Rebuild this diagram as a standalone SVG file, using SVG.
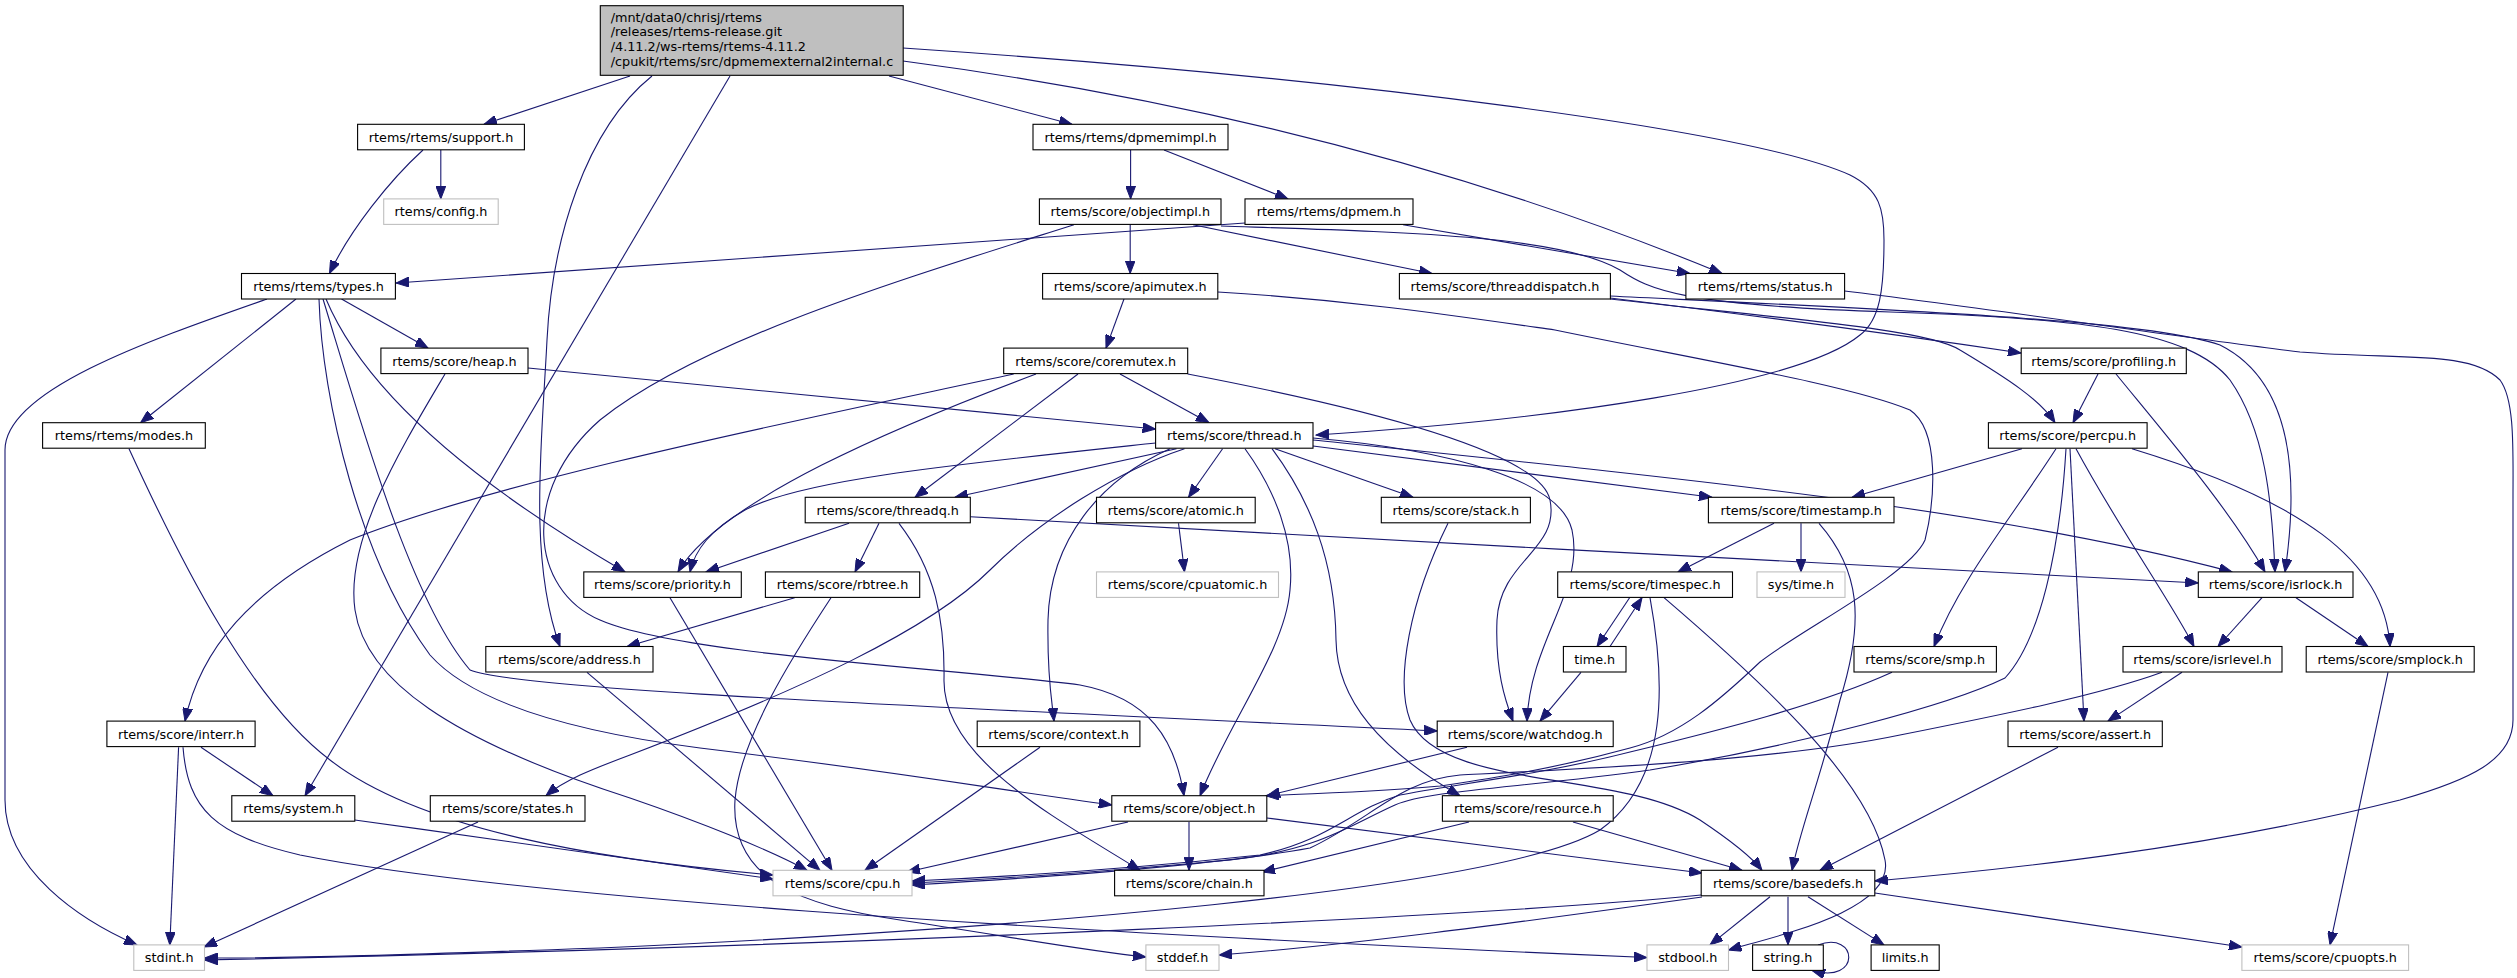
<svg xmlns="http://www.w3.org/2000/svg" width="2517" height="978" viewBox="0 0 2517 978">
<defs>
<style>
.node rect{fill:#fff;stroke:#000;stroke-width:1.1}
.ext rect{fill:#fff;stroke:#bfbfbf;stroke-width:1.1}
.root rect{fill:#bfbfbf;stroke:#000;stroke-width:1.1}
text{font-family:"DejaVu Sans","Liberation Sans",sans-serif;font-size:12.8px;fill:#000}
.node text,.ext text{text-anchor:middle}
#edges path{fill:none;stroke:#191970;stroke-width:1.1;marker-end:url(#arr)}
</style>
<marker id="arr" markerWidth="14" markerHeight="10" refX="13" refY="5" orient="auto" markerUnits="userSpaceOnUse">
<path d="M0,0 L13,5 L0,10 z" fill="#191970" stroke="#191970" stroke-width="1"/>
</marker>
</defs>
<rect width="2517" height="978" fill="#fff"/>
<g id="edges">
<path d="M630,76 L484,124.3"/>
<path d="M652,76 C585,130 552,240 547,340 C542,440 528,560 560,646.5"/>
<path d="M730,76 L305,795.7"/>
<path d="M889,76 L1072,124.3"/>
<path d="M903,61 Q1350,120 1722,273.5"/>
<path d="M903,48 C1350,78 1750,130 1850,175 C1880,190 1884,210 1884,240 C1884,290 1880,320 1860,335 C1800,385 1550,420 1316,435"/>
<path d="M440.8,150 L440.8,198.9"/>
<path d="M423,150 C390,180 350,230 329.5,273.5"/>
<path d="M1130.6,150 L1130.6,198.9"/>
<path d="M1164,150 L1288,198.9"/>
<path d="M1245,223 L396,283"/>
<path d="M1403,224.7 L1690,273.5"/>
<path d="M1130.2,224.7 L1130.2,273.5"/>
<path d="M1193,224.7 L1432,273.5"/>
<path d="M1074,224.7 C900,280 700,340 600,420 C520,490 530,590 600,620 C680,655 950,668 1080,685 C1150,698 1175,740 1184,795.7"/>
<path d="M1221,226 C1400,232 1560,235 1620,270 C1650,290 1680,305 1890,312 C2080,318 2190,330 2230,380 C2265,430 2272,500 2275,571.9"/>
<path d="M1124,299 L1106,348.1"/>
<path d="M1217.8,292 C1350,300 1450,315 1555,330 C1700,360 1850,385 1910,410 C1940,430 1935,500 1925,540 C1910,575 1800,630 1760,662 C1720,700 1680,735 1630,748 C1550,770 1480,780 1440,786 C1380,792 1320,793 1266,795.7"/>
<path d="M1013.7,374 C800,420 500,480 350,540 C250,590 200,650 185,721.1"/>
<path d="M1036,374 C900,425 720,500 678,571.9"/>
<path d="M1078,374 L915,497.3"/>
<path d="M1120,374 L1209,422.7"/>
<path d="M1187.7,374 C1350,405 1540,450 1550,500 C1560,550 1500,560 1497,620 C1495,670 1505,700 1513,721.1"/>
<path d="M528,368 L1155.6,429"/>
<path d="M445,374 C400,450 345,540 355,610 C365,680 450,740 630,798 C700,822 770,850 807,870.3"/>
<path d="M267,299 C150,340 5,390 5,450 L5,800 C5,870 80,920 137,944.9"/>
<path d="M296,299 L140.6,422.7"/>
<path d="M319,299 C322,400 360,560 430,655 C470,700 560,730 700,748 C900,772 1000,790 1111.8,805"/>
<path d="M323,299 C360,420 410,600 470,670 C520,690 900,705 1437.2,731"/>
<path d="M326,299 C360,380 450,470 625,571.9"/>
<path d="M341.5,299 L428,348.1"/>
<path d="M129,448.7 C180,560 250,700 330,760 C420,830 600,860 773,875"/>
<path d="M354.8,820 C500,840 650,862 773,879"/>
<path d="M201,747.3 L273,795.7"/>
<path d="M178.6,747.3 L169.8,944.9"/>
<path d="M183,747.3 C188,810 215,835 300,855 C500,895 1000,930 1647,957.5"/>
<path d="M478,822 L204,947"/>
<path d="M587,672.3 L820,870.3"/>
<path d="M670,597.7 L832,870.3"/>
<path d="M849,523.3 L706,571.9"/>
<path d="M879,523.3 L855,571.9"/>
<path d="M899,523.3 C935,570 945,620 944,680 C943,760 1060,820 1140,870.3"/>
<path d="M970.3,516.7 C1300,537 1900,566 2198.3,583"/>
<path d="M794.7,597.7 L627,646.5"/>
<path d="M831,597.7 C790,660 740,740 735,800 C730,880 800,905 900,920 C1000,935 1080,950 1145.9,957"/>
<path d="M1155.6,443 C950,465 800,480 745,510 C710,530 695,550 690,571.9"/>
<path d="M1176.5,448.7 L955,497.3"/>
<path d="M1184.5,448.7 C1120,470 1040,520 990,570 C930,630 800,690 630,755 C590,770 565,780 546,795.7"/>
<path d="M1170,448.7 C1100,480 1050,540 1048,620 C1047,680 1052,700 1054,721.1"/>
<path d="M1222.6,448.7 L1188.5,497.3"/>
<path d="M1245,448.7 C1275,490 1295,540 1290,590 C1285,650 1230,720 1200,795.7"/>
<path d="M1272,448.7 C1310,500 1335,560 1336,640 C1337,700 1380,750 1460,795.7"/>
<path d="M1275,448.7 L1413,497.3"/>
<path d="M1313,446 L1712,497.3"/>
<path d="M1313,440 C1700,480 2000,510 2232,571.9"/>
<path d="M1313,438 C1450,450 1560,480 1572,530 C1585,590 1530,640 1527,721.1"/>
<path d="M1178.5,523.3 L1184.5,571.9"/>
<path d="M1448,523.3 C1410,600 1395,680 1410,720 C1440,790 1620,770 1700,820 C1730,840 1750,855 1762,870.3"/>
<path d="M1774,523.3 L1678,571.9"/>
<path d="M1801,523.3 L1801,571.9"/>
<path d="M1819,523.3 C1860,570 1865,620 1840,700 C1820,780 1800,830 1792,870.3"/>
<path d="M1629.6,597.7 L1597,646.5"/>
<path d="M1610,646.5 L1642,597.7"/>
<path d="M1581,672.3 L1540,721.1"/>
<path d="M1650,597.7 C1665,680 1670,780 1600,830 C1500,890 1000,930 600,948 C400,955 300,958 204.5,958"/>
<path d="M1664,597.7 C1760,680 1870,780 1885,860 C1895,910 1780,935 1728.5,950"/>
<path d="M1469,822 L1262,872"/>
<path d="M1573,822 L1742,870.3"/>
<path d="M1128,822 L907,872"/>
<path d="M1189,822 L1189,870.3"/>
<path d="M1266.8,818 L1702,873"/>
<path d="M1040,747.3 L865,870.3"/>
<path d="M1467,747.3 L1267,795.7"/>
<path d="M1770,896.7 L1710,944.9"/>
<path d="M1788,896.7 L1788,944.9"/>
<path d="M1808,896.7 L1884,944.9"/>
<path d="M1874.8,893 L2242,947"/>
<path d="M1701,895 C1500,915 900,945 204.5,960"/>
<path d="M1702,897 C1500,925 1350,945 1219,955"/>
<path d="M1818,944.9 C1858,930 1862,985 1812,970.4"/>
<path d="M2022,448.7 L1852,497.3"/>
<path d="M2056,448.7 C2010,520 1960,580 1934,646.5"/>
<path d="M2066,448.7 C2060,550 2040,640 2005,678 C1950,705 1800,745 1650,770 C1520,788 1430,790 1395,805 C1350,825 1320,850 1230,860 C1100,872 980,880 912,883"/>
<path d="M2070,448.7 L2084,721.1"/>
<path d="M2076,448.7 C2120,530 2170,600 2194,646.5"/>
<path d="M2132,448.7 C2300,500 2385,560 2390,646.5"/>
<path d="M2098,374 L2073,422.7"/>
<path d="M2116,374 C2170,440 2230,510 2265,571.9"/>
<path d="M1610,298 C1750,315 1900,335 2021,353"/>
<path d="M1610,299 C1800,320 1930,330 1960,350 C2010,380 2040,400 2055,422.7"/>
<path d="M1610,296 C1900,310 2150,320 2220,345 C2290,380 2300,470 2285,571.9"/>
<path d="M1844.6,291 C2000,310 2200,340 2300,352 C2400,360 2470,350 2500,380 C2515,400 2513,450 2513,500 L2513,720 C2513,760 2470,780 2400,800 C2200,850 2000,870 1874.8,881"/>
<path d="M2262,597.7 L2218,646.5"/>
<path d="M2296,597.7 L2368,646.5"/>
<path d="M2182,672.3 L2108,721.1"/>
<path d="M2162,672.3 C2100,695 2000,715 1900,735 C1780,760 1600,768 1460,775 C1400,780 1370,820 1310,848 C1200,868 1000,880 912,885"/>
<path d="M1892,672.3 C1820,705 1720,730 1630,752 C1540,775 1450,785 1400,795 C1350,810 1330,840 1260,855 C1120,870 980,878 912,881"/>
<path d="M2058,747.3 L1820,870.3"/>
<path d="M2388,672.3 L2330,944.9"/>
</g>
<g id="n_root" class="root"><rect x="600.3" y="5.7" width="302.9" height="69.6"/>
<text x="610.7" y="21.5">/mnt/data0/chrisj/rtems</text>
<text x="610.7" y="36.3">/releases/rtems-release.git</text>
<text x="610.7" y="51">/4.11.2/ws-rtems/rtems-4.11.2</text>
<text x="610.7" y="65.8">/cpukit/rtems/src/dpmemexternal2internal.c</text></g>
<g id="n_support" class="node"><rect x="357.6" y="124.3" width="166.8" height="25.5"/><text x="441" y="141.7">rtems/rtems/support.h</text></g>
<g id="n_dpmemimpl" class="node"><rect x="1033" y="124.3" width="195" height="25.5"/><text x="1130.5" y="141.7">rtems/rtems/dpmemimpl.h</text></g>
<g id="n_config" class="ext"><rect x="383.7" y="198.9" width="114.5" height="25.5"/><text x="441" y="216.3">rtems/config.h</text></g>
<g id="n_objectimpl" class="node"><rect x="1039.4" y="198.9" width="181.6" height="25.5"/><text x="1130.2" y="216.3">rtems/score/objectimpl.h</text></g>
<g id="n_dpmem" class="node"><rect x="1245" y="198.9" width="168" height="25.5"/><text x="1329" y="216.3">rtems/rtems/dpmem.h</text></g>
<g id="n_types" class="node"><rect x="241.5" y="273.5" width="153.9" height="25.5"/><text x="318.5" y="290.9">rtems/rtems/types.h</text></g>
<g id="n_apimutex" class="node"><rect x="1042.6" y="273.5" width="175.2" height="25.5"/><text x="1130.2" y="290.9">rtems/score/apimutex.h</text></g>
<g id="n_threaddispatch" class="node"><rect x="1399.4" y="273.5" width="211" height="25.5"/><text x="1504.9" y="290.9">rtems/score/threaddispatch.h</text></g>
<g id="n_status" class="node"><rect x="1685.9" y="273.5" width="158.7" height="25.5"/><text x="1765.2" y="290.9">rtems/rtems/status.h</text></g>
<g id="n_heap" class="node"><rect x="380.9" y="348.1" width="147.1" height="25.5"/><text x="454.4" y="365.5">rtems/score/heap.h</text></g>
<g id="n_coremutex" class="node"><rect x="1003.7" y="348.1" width="184" height="25.5"/><text x="1095.7" y="365.5">rtems/score/coremutex.h</text></g>
<g id="n_profiling" class="node"><rect x="2021.2" y="348.1" width="165.1" height="25.5"/><text x="2103.7" y="365.5">rtems/score/profiling.h</text></g>
<g id="n_modes" class="node"><rect x="42.6" y="422.7" width="162.7" height="25.5"/><text x="124" y="440.1">rtems/rtems/modes.h</text></g>
<g id="n_thread" class="node"><rect x="1155.6" y="422.7" width="157.4" height="25.5"/><text x="1234.3" y="440.1">rtems/score/thread.h</text></g>
<g id="n_percpu" class="node"><rect x="1988.4" y="422.7" width="158.7" height="25.5"/><text x="2067.7" y="440.1">rtems/score/percpu.h</text></g>
<g id="n_threadq" class="node"><rect x="805.2" y="497.3" width="165.1" height="25.5"/><text x="887.7" y="514.7">rtems/score/threadq.h</text></g>
<g id="n_atomic" class="node"><rect x="1096.5" y="497.3" width="158.7" height="25.5"/><text x="1175.8" y="514.7">rtems/score/atomic.h</text></g>
<g id="n_stack" class="node"><rect x="1381.3" y="497.3" width="149.1" height="25.5"/><text x="1455.8" y="514.7">rtems/score/stack.h</text></g>
<g id="n_timestamp" class="node"><rect x="1708.4" y="497.3" width="185.6" height="25.5"/><text x="1801.2" y="514.7">rtems/score/timestamp.h</text></g>
<g id="n_priority" class="node"><rect x="583.8" y="571.9" width="157.5" height="25.5"/><text x="662.5" y="589.3">rtems/score/priority.h</text></g>
<g id="n_rbtree" class="node"><rect x="765.4" y="571.9" width="154.3" height="25.5"/><text x="842.5" y="589.3">rtems/score/rbtree.h</text></g>
<g id="n_cpuatomic" class="ext"><rect x="1096.5" y="571.9" width="182" height="25.5"/><text x="1187.5" y="589.3">rtems/score/cpuatomic.h</text></g>
<g id="n_timespec" class="node"><rect x="1557.7" y="571.9" width="174.8" height="25.5"/><text x="1645.1" y="589.3">rtems/score/timespec.h</text></g>
<g id="n_systime" class="ext"><rect x="1757" y="571.9" width="88" height="25.5"/><text x="1801" y="589.3">sys/time.h</text></g>
<g id="n_isrlock" class="node"><rect x="2198.3" y="571.9" width="154.7" height="25.5"/><text x="2275.6" y="589.3">rtems/score/isrlock.h</text></g>
<g id="n_address" class="node"><rect x="485.8" y="646.5" width="167.2" height="25.5"/><text x="569.4" y="663.9">rtems/score/address.h</text></g>
<g id="n_time" class="node"><rect x="1563.4" y="646.5" width="62.6" height="25.5"/><text x="1594.7" y="663.9">time.h</text></g>
<g id="n_smp" class="node"><rect x="1854" y="646.5" width="142.4" height="25.5"/><text x="1925.2" y="663.9">rtems/score/smp.h</text></g>
<g id="n_isrlevel" class="node"><rect x="2123" y="646.5" width="159" height="25.5"/><text x="2202.5" y="663.9">rtems/score/isrlevel.h</text></g>
<g id="n_smplock" class="node"><rect x="2306.2" y="646.5" width="168" height="25.5"/><text x="2390.2" y="663.9">rtems/score/smplock.h</text></g>
<g id="n_interr" class="node"><rect x="106.9" y="721.1" width="148.2" height="25.5"/><text x="181" y="738.5">rtems/score/interr.h</text></g>
<g id="n_context" class="node"><rect x="977.2" y="721.1" width="162.7" height="25.5"/><text x="1058.5" y="738.5">rtems/score/context.h</text></g>
<g id="n_watchdog" class="node"><rect x="1437.2" y="721.1" width="176" height="25.5"/><text x="1525.2" y="738.5">rtems/score/watchdog.h</text></g>
<g id="n_assert" class="node"><rect x="2008" y="721.1" width="154.3" height="25.5"/><text x="2085.2" y="738.5">rtems/score/assert.h</text></g>
<g id="n_system" class="node"><rect x="231.8" y="795.7" width="123" height="25.5"/><text x="293.3" y="813.1">rtems/system.h</text></g>
<g id="n_states" class="node"><rect x="430.3" y="795.7" width="154.7" height="25.5"/><text x="507.7" y="813.1">rtems/score/states.h</text></g>
<g id="n_object" class="node"><rect x="1111.8" y="795.7" width="155" height="25.5"/><text x="1189.3" y="813.1">rtems/score/object.h</text></g>
<g id="n_resource" class="node"><rect x="1442.4" y="795.7" width="170.8" height="25.5"/><text x="1527.8" y="813.1">rtems/score/resource.h</text></g>
<g id="n_cpu" class="ext"><rect x="773" y="870.3" width="139" height="25.5"/><text x="842.5" y="887.7">rtems/score/cpu.h</text></g>
<g id="n_chain" class="node"><rect x="1114.6" y="870.3" width="149.4" height="25.5"/><text x="1189.3" y="887.7">rtems/score/chain.h</text></g>
<g id="n_basedefs" class="node"><rect x="1701.2" y="870.3" width="173.6" height="25.5"/><text x="1788" y="887.7">rtems/score/basedefs.h</text></g>
<g id="n_stdint" class="ext"><rect x="133.8" y="944.9" width="70.7" height="25.5"/><text x="169.2" y="962.3">stdint.h</text></g>
<g id="n_stddef" class="ext"><rect x="1145.9" y="944.9" width="73.1" height="25.5"/><text x="1182.5" y="962.3">stddef.h</text></g>
<g id="n_stdbool" class="ext"><rect x="1647" y="944.9" width="81.5" height="25.5"/><text x="1687.8" y="962.3">stdbool.h</text></g>
<g id="n_string" class="node"><rect x="1752.6" y="944.9" width="70.7" height="25.5"/><text x="1788" y="962.3">string.h</text></g>
<g id="n_limits" class="node"><rect x="1871.1" y="944.9" width="68.1" height="25.5"/><text x="1905.2" y="962.3">limits.h</text></g>
<g id="n_cpuopts" class="ext"><rect x="2241.9" y="944.9" width="166.7" height="25.5"/><text x="2325.3" y="962.3">rtems/score/cpuopts.h</text></g>
</svg>
